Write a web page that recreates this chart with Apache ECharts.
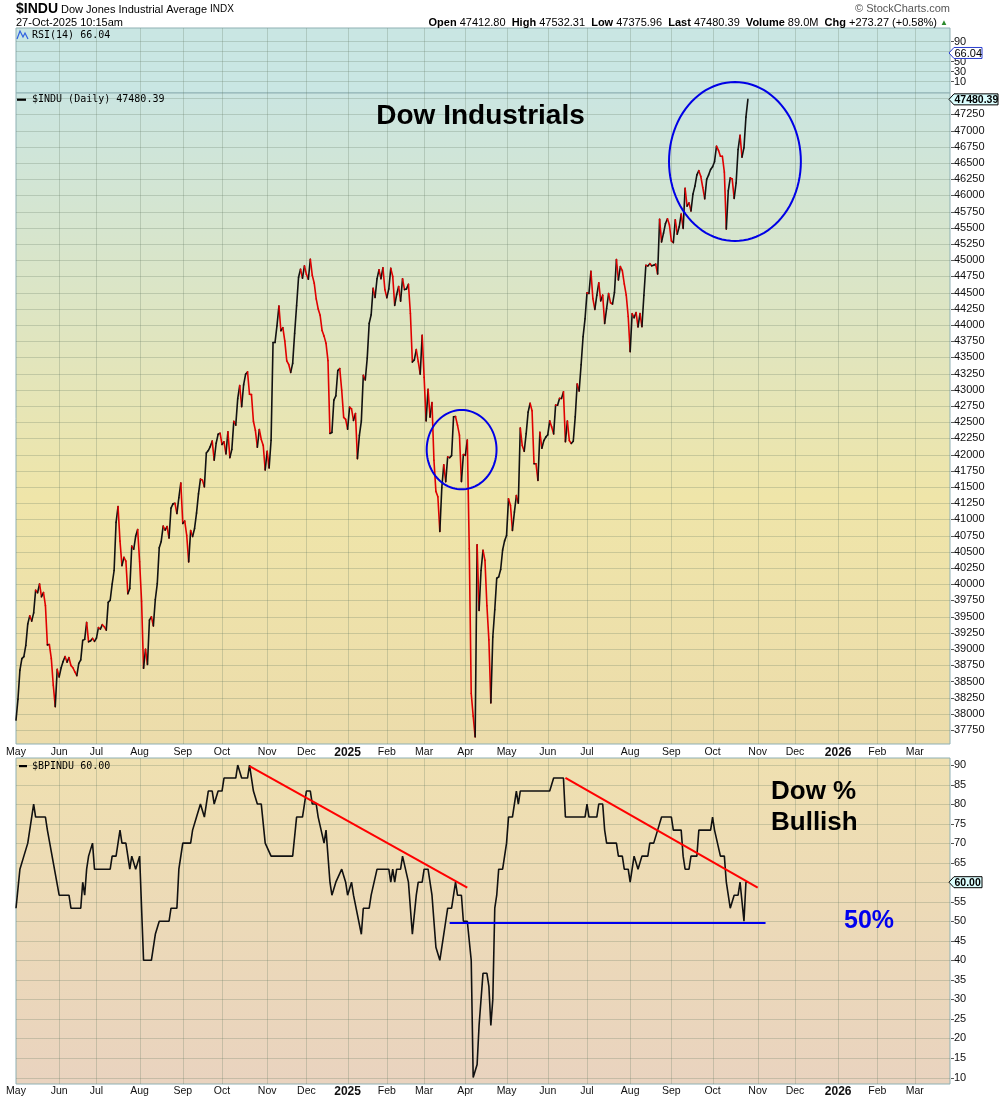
<!DOCTYPE html>
<html><head><meta charset="utf-8">
<script src="https://cdn.jsdelivr.net/npm/echarts@6/dist/echarts.min.js"></script>
<style>html,body{margin:0;padding:0;background:#fff}#c{width:1000px;height:1100px}</style>
</head><body><div id="c"></div>
<script>
// ---------------- DATA ----------------
const startDate = [2024, 4, 1];          // 1 May 2024 (month 0-based)
const totalTradingDays = 477;            // axis runs to late Mar 2026
const holidays = ['2024-05-27','2024-06-19','2024-07-04','2024-09-02','2024-11-28','2024-12-25',
  '2025-01-01','2025-01-09','2025-01-20','2025-02-17','2025-04-18','2025-05-26','2025-06-19',
  '2025-07-04','2025-09-01','2025-11-27','2025-12-25','2026-01-01','2026-01-19','2026-02-16'];
const monthNames = ['Jan','Feb','Mar','Apr','May','Jun','Jul','Aug','Sep','Oct','Nov','Dec'];

// $INDU daily closes, May 2024 .. Dec 2024
const dow2024 = [
 37903,38226,38676,38852,38884,39056,39388,39513,39432,39558,39908,39869,40004,39807,39873,39671,39065,39070,38853,38442,38112,38686,
 38571,38711,38807,38886,38799,38868,38747,38712,38647,38589,38778,38834,39134,39150,39411,39112,39127,39164,39119,
 39170,39331,39308,39376,39344,39292,39721,39753,40001,40212,40954,41198,40665,40288,40415,40358,39854,39935,40589,40540,40743,40843,
 40348,39737,38703,38997,38763,39446,39498,39358,39765,40009,40563,40660,40897,40835,40891,40713,41175,41240,41250,41091,41335,41563,
 40937,40975,40756,40345,40830,40737,40861,41097,41394,41622,41606,41503,42025,42063,42124,42208,41915,42175,42313,42330,
 42156,42197,42012,42353,41954,42080,42512,42454,42864,43065,42740,43077,43239,43276,42932,42925,42514,42374,42114,42388,42234,42142,41763,
 42052,41794,42222,43729,43729,43989,44293,43911,43958,43751,43445,43390,43269,43408,43870,44297,44737,44860,44722,44911,
 44782,44705,45014,44766,44643,44402,44248,44149,43914,43828,43717,43450,42327,42342,42840,42907,43297,43326,42992,42574,42544
];
// $INDU daily closes, Jan 2025 .. 27 Oct 2025
const dow2025 = [
 42392,42732,42707,42528,42635,41938,42297,42518,43222,43153,43488,44025,44157,44565,44424,44714,44851,44714,44882,44545,
 44421,44556,44873,44748,44303,44470,44594,44368,44711,44546,44556,44628,44177,43428,43461,43621,43433,43240,43841,
 43191,42521,43007,42579,42802,41912,41433,41350,40814,41489,41841,41582,41965,41953,41985,42583,42587,42455,42300,41584,42002,
 41989,42226,40546,38315,37966,37646,40609,39594,40213,40525,40368,39669,39142,38170,39187,39607,40093,40114,40228,40528,40669,
 40753,41317,41219,40829,41114,41368,41249,42410,42140,42051,42323,42655,42792,42677,41860,41860,41603,42343,42098,42216,42270,
 42305,42520,42427,42320,42763,42762,42867,42866,42968,42198,42516,42216,42172,42207,42582,43089,42982,43387,43819,44095,
 44495,44485,44829,44406,44241,44458,44651,44372,44460,44023,44255,44484,44342,44323,44502,45010,44694,44902,44838,44633,44461,44131,
 43589,44174,44112,44193,43969,44176,43975,44459,44922,44911,44946,44912,44922,44938,44786,45632,45282,45418,45565,45637,45545,
 45296,45271,45621,45401,45515,45711,45490,46108,45834,45883,45758,46018,46142,46315,46381,46292,46121,45947,46247,46316,46398,
 46441,46519,46758,46695,46603,46602,46358,45480,46068,46270,46253,45952,46191,46707,46925,46590,46735,47207,47480.39
];

// $BPINDU: [trading-day index, value] at the turning points
const bpPoints = [
 [0,53.33],[2,63.33],[4,66.67],[5,66.67],[6,70],[7,70],[8,76.67],[9,80],[10,76.67],[15,76.67],[16,73.33],[17,73.33],
 [22,56.67],[27,56.67],[28,53.33],[33,53.33],[34,60],[35,56.67],[36,63.33],[37,66.67],[38,66.67],[39,70],[40,63.33],
 [48,63.33],[49,66.67],[51,66.67],[53,73.33],[54,70],[56,70],[58,63.33],[59,66.67],[60,66.67],[61,63.33],[62,63.33],
 [63,66.67],[65,40],[69,40],[71,46.67],[72,46.67],[73,50],[78,50],[79,53.33],[82,53.33],[83,63.33],[85,70],[89,70],
 [90,73.33],[91,73.33],[92,76.67],[93,76.67],[94,80],[95,80],[96,76.67],[98,83.33],[100,83.33],[101,80],[102,80],
 [103,83.33],[105,83.33],[106,86.67],[112,86.67],[113,90],[114,90],[115,86.67],[118,86.67],[119,90],[121,83.33],
 [122,83.33],[123,80],[125,80],[127,70],[128,70],[130,66.67],[141,66.67],[143,76.67],[146,76.67],[148,83.33],[150,83.33],
 [151,80],[153,80],[154,76.67],[155,76.67],[157,70],[158,73.33],[159,73.33],[160,60],[161,56.67],[162,56.67],[163,60],
 [164,60],[166,63.33],[167,63.33],[168,60],[169,56.67],[170,56.67],[171,60],[172,56.67],[173,56.67],[176,46.67],
 [177,53.33],[180,53.33],[181,56.67],[182,56.67],[184,63.33],[190,63.33],[191,60],[192,63.33],[193,60],[194,63.33],
 [196,63.33],[197,66.67],[198,66.67],[200,60],[202,46.67],[204,56.67],[205,60],[207,60],[208,63.33],[210,63.33],
 [212,56.67],[214,43.33],[215,43.33],[216,40],[218,46.67],[219,50],[220,53.33],[222,53.33],[224,60],[225,56.67],
 [227,56.67],[228,50],[230,50],[232,40],[233,10],[234,10],[235,13.33],[236,23.33],[237,23.33],[238,36.67],[240,36.67],
 [241,33.33],[242,23.33],[243,30],[244,53.33],[245,56.67],[246,63.33],[248,63.33],[249,66.67],[250,70],[251,76.67],
 [253,76.67],[255,83.33],[256,80],[257,83.33],[272,83.33],[274,86.67],[279,86.67],[280,76.67],[290,76.67],[291,80],
 [292,76.67],[296,76.67],[297,80],[299,80],[300,73.33],[301,70],[306,70],[307,66.67],[309,66.67],[310,63.33],[312,63.33],
 [313,60],[315,66.67],[316,66.67],[317,63.33],[318,63.33],[319,66.67],[322,66.67],[323,70],[325,70],[327,73.33],
 [329,76.67],[334,76.67],[335,73.33],[339,73.33],[340,66.67],[341,63.33],[343,63.33],[344,66.67],[347,66.67],[348,73.33],
 [354,73.33],[355,76.67],[356,73.33],[357,73.33],[359,66.67],[361,66.67],[362,60],[364,53.33],[365,53.33],[366,56.67],
 [368,56.67],[369,60],[371,50],[372,60],[373,60]
];

// y tick labels of the three panels
const rsiTicks = [10, 30, 50, 70, 90];
const induTickStep = 250, induMin = 37500, induMax = 47500;
const bpTickStep = 5, bpMin = 10, bpMax = 90;

// annotations (data space)
const redTrendA = [[119, 89.7], [230, 58.6]];
const redTrendB = [[280, 86.7], [378, 58.6]];
const blueLevel = [[221, 49.7], [382, 49.7]];
const blueEllipses = [[366.4, 46522, 33.6, 1226], [227.1, 42076, 17.8, 612]]; // [day, value, rx days, ry points]

// last values / header
const rsiLast = 66.04, induLast = 47480.39, bpLast = 60.00;
const statLabels = ['Open','High','Low','Last','Volume','Chg'];
const statValues = ['47412.80','47532.31','47375.96','47480.39','89.0M','+273.27 (+0.58%)'];

// ---------------- BUILD ----------------
function ymd(d){return d.getUTCFullYear()+'-'+String(d.getUTCMonth()+1).padStart(2,'0')+'-'+String(d.getUTCDate()).padStart(2,'0');}
const days = [];
(function(){let d=new Date(Date.UTC(startDate[0],startDate[1],startDate[2]));
 while(days.length<totalTradingDays){const wd=d.getUTCDay();const s=ymd(d);
  if(wd!==0&&wd!==6&&holidays.indexOf(s)<0)days.push(s);d.setUTCDate(d.getUTCDate()+1);}})();
const monthStart = days.map((s,i)=> i===0 || s.slice(0,7)!==days[i-1].slice(0,7));
const monthIdx = []; monthStart.forEach((m,i)=>{ if(m && i>0) monthIdx.push([i]); });
const closes = dow2024.concat(dow2025);
const segs = [];
for(let i=1;i<closes.length;i++) segs.push([i, closes[i-1], closes[i]]);
function stepList(a,b,s){const r=[];for(let v=a;v<=b+1e-9;v+=s)r.push([v]);return r;}
const rsiGrid = rsiTicks.map(v=>[v-10]);                         // RSI axis is shifted by 10
const induGrid = stepList(induMin+induTickStep, induMax, induTickStep);
const bpGrid = stepList(bpMin, bpMax, bpTickStep);

const FONT = "'Liberation Sans', Arial, sans-serif";
const MONO = "'DejaVu Sans Mono', monospace";
const GL = 'rgba(95,120,95,0.26)';
const LEFT = 16, WIDTH = 934, LAST = totalTradingDays-1;

function lg(stops){return {type:'linear',x:0,y:0,x2:0,y2:1,colorStops:stops.map(s=>({offset:s[0],color:s[1]}))};}
const frames = [
 {top:28, height:65, bg:'#c9e6e3'},
 {top:93, height:651, bg:lg([[0,'#cae5e1'],[0.3,'#dbe5c6'],[0.62,'#efe5a9'],[1,'#ecdcab']])},
 {top:758, height:326, bg:lg([[0,'#efe0b0'],[1,'#e9d3bf']])}
];
const dataGrids = [{top:41,height:40},{top:98.1,height:648.2},{top:765,height:312.5}];

const grid = [];
frames.forEach(f=>grid.push({left:LEFT,width:WIDTH,top:f.top,height:f.height,show:true,backgroundColor:f.bg,
  borderColor:'#8fb0b3',borderWidth:1,z:0,outerBoundsMode:'none',containLabel:false}));
dataGrids.forEach(g=>grid.push({left:LEFT,width:WIDTH,top:g.top,height:g.height,show:false,z:1,outerBoundsMode:'none',containLabel:false}));

function monthFmt(v){const y=v.slice(0,4), m=+v.slice(5,7); return m===1 ? '{yr|'+y+'}' : monthNames[m-1];}
const xAxis = [], yAxis = [];
[0,1,2].forEach(k=>{
 xAxis.push({type:'category',gridIndex:k,data:days,boundaryGap:false,z:1,
  axisLine:{show:false,onZero:false},axisTick:{show:false},splitLine:{show:false},splitArea:{show:false},
  axisLabel:{show:k>0,interval:(i)=>monthStart[i],formatter:monthFmt,margin:k===1?3:2,hideOverlap:false,
   color:'#111',fontSize:10.5,fontFamily:FONT,
   rich:{yr:{fontWeight:'bold',fontSize:12,color:'#111',fontFamily:FONT}}}});
 yAxis.push({type:'value',gridIndex:k,show:false,min:0,max:1,splitLine:{show:false},axisLine:{show:false,onZero:false}});
});
[3,4,5].forEach(k=>xAxis.push({type:'value',gridIndex:k,min:0,max:LAST,show:false,
  axisLine:{show:false,onZero:false},splitLine:{show:false},axisTick:{show:false},axisLabel:{show:false}}));
function yData(k,min,max,interval,fmt,showLabels){
 return {type:'value',gridIndex:k,min,max,interval,position:'right',
  axisLine:{show:false,onZero:false},axisTick:{show:false},
  splitLine:{show:false},splitArea:{show:false},minorTick:{show:false},minorSplitLine:{show:false},
  axisLabel:{show:showLabels,color:'#111',fontSize:11,fontFamily:FONT,margin:4,showMinLabel:true,showMaxLabel:true,hideOverlap:false,formatter:fmt}};
}
yAxis.push(yData(3,0,80,20,v=>String(v+10),false));   // RSI labels drawn with its grid lines below
yAxis.push(yData(4,induMin,induMax,induTickStep,v=> (v===induMin||v===induMax)?'':String(v),true));
yAxis.push(yData(5,bpMin,bpMax,bpTickStep,v=>String(v),true));

function px(v){return Math.round(v)+0.5;}
function vGrid(k){return {type:'custom',xAxisIndex:k,yAxisIndex:k,data:monthIdx,encode:{x:0},clip:false,silent:true,z:1,
 renderItem:function(p,api){const a=api.coord([api.value(0),0]), b=api.coord([api.value(0),1]);
  return {type:'line',shape:{x1:px(a[0]),y1:b[1],x2:px(a[0]),y2:a[1]},style:{stroke:GL,lineWidth:1}};}};}
function hGrid(k,data,labelFn){return {type:'custom',xAxisIndex:k,yAxisIndex:k,data,encode:{y:0},clip:false,silent:true,z:1,
 renderItem:function(p,api){const v=api.value(0), a=api.coord([0,v]), b=api.coord([LAST,v]);
  const y=px(a[1]);
  const ch=[
   {type:'line',shape:{x1:a[0],y1:y,x2:b[0],y2:y},style:{stroke:GL,lineWidth:1}},
   {type:'line',shape:{x1:b[0]+1,y1:y,x2:b[0]+4,y2:y},style:{stroke:'#555',lineWidth:1}}];
  if(labelFn) ch.push({type:'text',style:{text:labelFn(v),x:b[0]+4,y:a[1]+0.5,font:'11px '+FONT,fill:'#111',
    textAlign:'left',textVerticalAlign:'middle',align:'left',verticalAlign:'middle'}});
  return {type:'group',children:ch};}};}

const series = [
 vGrid(0), vGrid(1), vGrid(2),
 hGrid(3, rsiGrid, v=>String(v+10)), hGrid(4, induGrid), hGrid(5, bpGrid),
 {type:'custom',name:'$INDU',xAxisIndex:4,yAxisIndex:4,data:segs,encode:{x:0,y:[1,2]},clip:false,silent:true,z:3,
  renderItem:function(params,api){
   const i=api.value(0), a=api.value(1), b=api.value(2);
   const p0=api.coord([i-1,a]), p1=api.coord([i,b]);
   return {type:'line',shape:{x1:p0[0],y1:p0[1],x2:p1[0],y2:p1[1]},
     style:{stroke: b<a ? '#e00000' : '#111111', lineWidth:1.6, lineCap:'round'}};
  }},
 {type:'custom',name:'circles',xAxisIndex:4,yAxisIndex:4,data:blueEllipses,encode:{x:0,y:1},clip:false,silent:true,z:4,
  renderItem:function(params,api){
   const cx=api.value(0), cy=api.value(1), rx=api.value(2), ry=api.value(3);
   const c=api.coord([cx,cy]), e=api.coord([cx+rx,cy+ry]);
   const rxp=e[0]-c[0], ryp=c[1]-e[1]; const pts=[];
   for(let k=0;k<96;k++){const t=k/96*Math.PI*2; pts.push([c[0]+rxp*Math.cos(t), c[1]+ryp*Math.sin(t)]);}
   return {type:'polygon',shape:{points:pts},style:{fill:'none',stroke:'#0000e6',lineWidth:2}};
  }},
 {type:'line',name:'$BPINDU',xAxisIndex:5,yAxisIndex:5,data:bpPoints,showSymbol:false,symbol:'none',silent:true,z:3,
  lineStyle:{color:'#111',width:1.6},
  markLine:{symbol:'none',silent:true,animation:false,label:{show:false},
   data:[
    [{coord:redTrendA[0],lineStyle:{color:'#ff0000',width:2,type:'solid'}},{coord:redTrendA[1]}],
    [{coord:redTrendB[0],lineStyle:{color:'#ff0000',width:2,type:'solid'}},{coord:redTrendB[1]}],
    [{coord:blueLevel[0],lineStyle:{color:'#0000ee',width:2,type:'solid'}},{coord:blueLevel[1]}]
   ]}}
];

const chart = echarts.init(document.getElementById('c'), null, {width:1000,height:1100});
chart.setOption({animation:false,backgroundColor:'#ffffff',grid,xAxis,yAxis,series});

// ---------------- TEXT / TAGS ----------------
function txt(id,text,x,y,font,fill,align,extra){
 return {type:'text',id,z:100,style:Object.assign({text,x,y,font,fill:fill||'#000',
  textAlign:align||'left',textVerticalAlign:'middle',align:align||'left',verticalAlign:'middle'},extra||{})};
}
function tag(id,yPix,text,w,fill,stroke,font){
 const h=11,x0=949;
 return {type:'group',id,z:200,children:[
  {type:'polygon',z:200,shape:{points:[[x0,yPix],[x0+5,yPix-h/2],[x0+w,yPix-h/2],[x0+w,yPix+h/2],[x0+5,yPix+h/2]]},
   style:{fill,stroke,lineWidth:1}},
  {type:'text',z:201,style:{text,x:x0+5.5,y:yPix+0.5,font,fill:'#000',textAlign:'left',textVerticalAlign:'middle',align:'left',verticalAlign:'middle'}}
 ]};
}
const statText = statLabels.map((l,i)=>'{b|'+l+'} {n|'+statValues[i]+'}').join('  ') + ' {g|\u25B2}';
const yR = chart.convertToPixel({yAxisIndex:3}, rsiLast-10);
const yI = chart.convertToPixel({yAxisIndex:4}, induLast);
const yB = chart.convertToPixel({yAxisIndex:5}, bpLast);
const elements = [
 txt('t1','{a|$INDU} {b|Dow Jones Industrial Average} {c|INDX}',16,9.5,'11px '+FONT,'#000','left',
   {rich:{a:{font:'bold 14px '+FONT,fill:'#000'},b:{font:'11px '+FONT,fill:'#000'},c:{font:'10px '+FONT,fill:'#000'}}}),
 txt('t2','27-Oct-2025 10:15am',16,23,'11px '+FONT,'#000'),
 txt('t3','\u00A9 StockCharts.com',950,9,'11px '+FONT,'#555','right'),
 txt('t4',statText,948,23,'11px '+FONT,'#000','right',
   {rich:{b:{font:'bold 11px '+FONT,fill:'#000'},n:{font:'11px '+FONT,fill:'#000'},g:{font:'8px '+FONT,fill:'#2a8a2a'}}}),
 txt('p1','RSI(14) '+rsiLast.toFixed(2),32,35.5,'10px '+MONO,'#000'),
 txt('p2','$INDU (Daily) '+induLast.toFixed(2),32,99.5,'10px '+MONO,'#000'),
 txt('p3','$BPINDU '+bpLast.toFixed(2),32,766,'10px '+MONO,'#000'),
 {type:'rect',id:'d1',z:100,shape:{x:17,y:98.6,width:9,height:2.2},style:{fill:'#000'}},
 {type:'rect',id:'d2',z:100,shape:{x:19,y:765,width:8,height:2.2},style:{fill:'#000'}},
 {type:'polyline',id:'ic',z:100,shape:{points:[[17,39],[20,31],[23,37],[25,33],[28,39]]},style:{stroke:'#3060e0',lineWidth:1.2,fill:'none'}},
 txt('h1','Dow Industrials',480.5,116,'bold 28px '+FONT,'#000','center'),
 txt('h2','Dow %',771,792,'bold 26px '+FONT,'#000'),
 txt('h3','Bullish',771,822.5,'bold 26px '+FONT,'#000'),
 txt('h4','50%',844,921,'bold 25px '+FONT,'#0000ee'),
 tag('g1',yR,rsiLast.toFixed(2),33,'#ffffff','#2b3fd0','11px '+FONT),
 tag('g2',yI,induLast.toFixed(2),49,'#dcffff','#000000','bold 10.5px '+FONT),
 tag('g3',yB,bpLast.toFixed(2),33,'#dcffff','#000000','bold 10.5px '+FONT)
];
chart.setOption({graphic:{elements}});
</script></body></html>
